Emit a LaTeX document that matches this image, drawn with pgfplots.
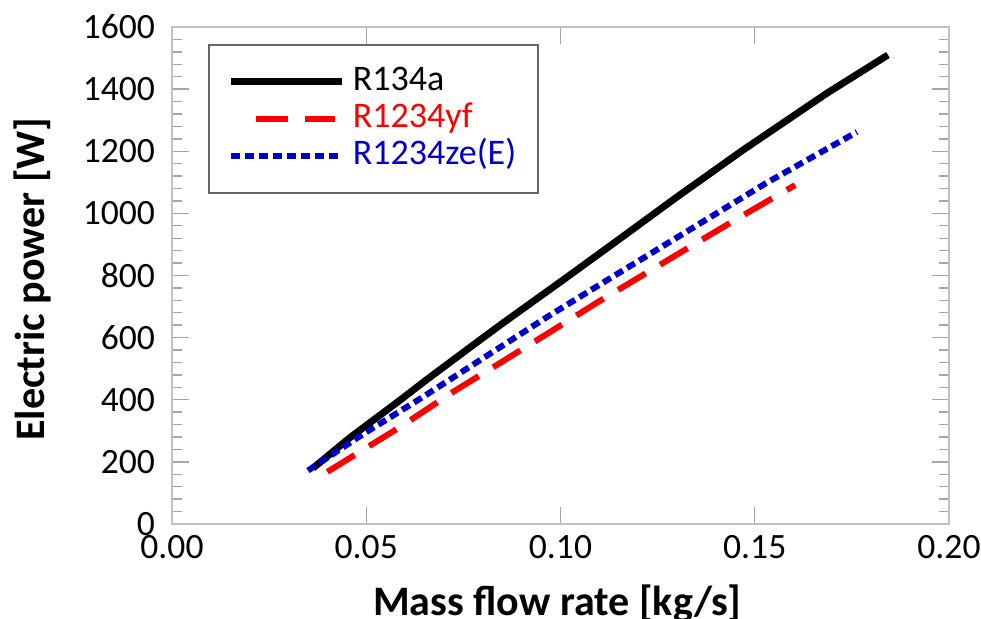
\documentclass[border=0pt]{standalone}
\usepackage{pgfplots}
\pgfplotsset{compat=1.18}
\usepackage{fontspec}
\setmainfont{Carlito}
\definecolor{frameg}{RGB}{192,192,192}
\definecolor{tickg}{RGB}{165,165,165}
\definecolor{r134}{RGB}{0,0,0}
\definecolor{ryf}{RGB}{255,0,0}
\definecolor{rze}{RGB}{0,0,205}

\begin{document}
\begin{tikzpicture}
  \begin{axis}[
    at={(0,0)}, anchor=south west,
    width=388.5pt, height=248.5pt,
    scale only axis,
    xmin=0, xmax=0.2, ymin=0, ymax=1600,
    xtick={0,0.05,0.1,0.15,0.2},
    ytick={0,200,...,1600},
    minor y tick num=4,
    tick align=inside,
    major tick length=8.5pt,
    minor tick length=5pt,
    axis line style={frameg, line width=0.8pt},
    tick style={tickg, line width=0.7pt},
    minor tick style={tickg, line width=0.7pt},
    /pgf/number format/assume math mode=true,
    ticklabel style={font=\fontsize{17.8}{20}\selectfont},
    xticklabel style={/pgf/number format/.cd, fixed, fixed zerofill, precision=2, /tikz/.cd, yshift=-2pt},
    yticklabel style={/pgf/number format/.cd, fixed, 1000 sep={}, /tikz/.cd, xshift=-5pt},
    xlabel={Mass flow rate [kg/s]},
    ylabel={Electric power [W]},
    label style={font=\fontsize{21}{24}\selectfont\bfseries, inner sep=0pt},
    xlabel style={at={(axis description cs:0.496,-0.1207)}, anchor=north},
    ylabel style={at={(axis description cs:-0.2046,0.493)}, anchor=north},
    legend image code/.code={\draw[#1] (0pt,0pt) -- (55.5pt,0pt);},
    legend style={
      at={(0.0463,0.9658)}, anchor=north west,
      draw=black!60, line width=0.9pt,
      font=\fontsize{18}{20}\selectfont,
      inner xsep=9.5pt, inner ysep=9.5pt,
      row sep=0.5pt,
      nodes={inner sep=1.5pt, text height=12pt, text depth=3pt},
      /tikz/every odd column/.append style={column sep=2pt},
    },
    legend cell align=left,
  ]

  \addplot[r134, line width=3.5pt, line join=round, line cap=butt]
  table[x=x, y=y] {
    x       y
    0.0363  180
    0.0458  278
    0.0579  391
    0.0656  465
    0.0775  576
    0.0852  647
    0.1006  785
    0.1148  914
    0.1300  1053
    0.1470  1204
    0.1686  1387
    0.1843  1510
  };
  \addlegendentry{\textcolor{r134}{R134a}}

  \addplot[ryf, line width=3pt, line join=round, line cap=butt,
    dash pattern=on 16pt off 8.5pt,
    legend image code/.code={\path[draw=none, fill=none] (0pt,0pt) -- (55.5pt,0pt);
      \draw[ryf, line width=3pt, line cap=butt, dash pattern=on 16pt off 8.5pt] (12.5pt,0pt) -- (52pt,0pt);}]
  table[x=x, y=y] {
    x       y
    0.0400  168
    0.0587  312
    0.0723  425
    0.0844  518
    0.0973  618
    0.1097  715
    0.1350  905
    0.1480  1001
    0.1604  1091
  };
  \addlegendentry{\textcolor{ryf}{R1234yf}}

  \addplot[rze, line width=3pt, line join=round, line cap=butt,
    dash pattern=on 4.5pt off 2.5pt]
  table[x=x, y=y] {
    x       y
    0.0350  172
    0.0489  287
    0.0646  409
    0.0806  538
    0.0965  666
    0.1120  785
    0.1340  953
    0.1530  1098
    0.1763  1262
  };
  \addlegendentry{\textcolor{rze}{R1234ze(E)}}

  \end{axis}
  \pgfresetboundingbox
  \path[use as bounding box] (-86pt,-47.5pt) rectangle (404.5pt,262pt);
\end{tikzpicture}
\end{document}
